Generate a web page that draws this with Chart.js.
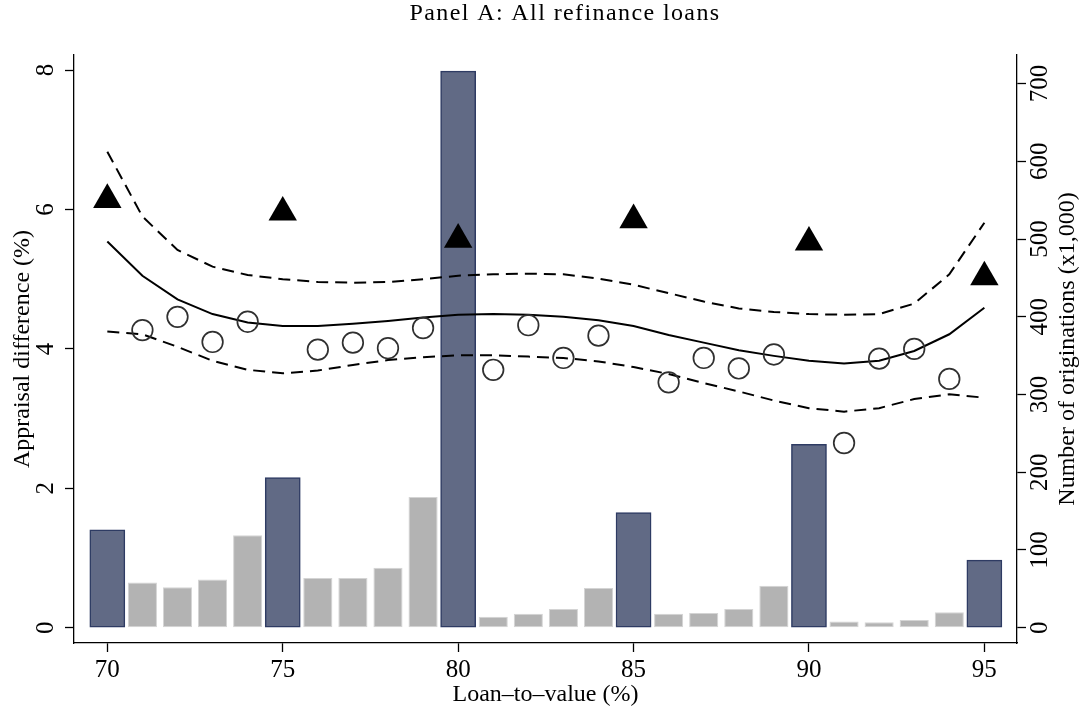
<!DOCTYPE html>
<html>
<head>
<meta charset="utf-8">
<title>Panel A: All refinance loans</title>
<script src="https://cdn.jsdelivr.net/npm/chart.js@4.4.1/dist/chart.umd.min.js"></script>
<style>
  html, body { margin: 0; padding: 0; background: #fff; }
  #wrap { width: 1084px; height: 712px; }
</style>
</head>
<body>
<div id="wrap"><canvas id="ltvChart" width="1084" height="712"></canvas></div>
<script>
// LTV bins: round-number bins and everything in between
const ltvRound = [70, 75, 80, 85, 90, 95];
const ltvOther = [71, 72, 73, 74, 76, 77, 78, 79, 81, 82, 83, 84, 86, 87, 88, 89, 91, 92, 93, 94];
const ltvAll = [70, 71, 72, 73, 74, 75, 76, 77, 78, 79, 80, 81, 82, 83, 84, 85, 86, 87, 88, 89, 90, 91, 92, 93, 94, 95];

// number of originations (x1,000)
const origRound = [126, 193, 716, 148, 236, 87];
const origOther = [58, 52, 62, 119, 64, 64, 77, 168, 14, 18, 24, 51, 18, 19, 24, 54, 8, 7, 10, 20];

// appraisal difference (%)
const apprRound = [6.14, 5.96, 5.57, 5.85, 5.53, 5.03];
const apprOther = [4.27, 4.46, 4.10, 4.39, 3.99, 4.09, 4.01, 4.30, 3.70, 4.34, 3.87, 4.19, 3.52, 3.87, 3.72, 3.92, 2.65, 3.86, 4.00, 3.57];

// fitted curve and confidence band
const fitMid = [5.54, 5.05, 4.71, 4.50, 4.38, 4.33, 4.33, 4.36, 4.40, 4.45, 4.49, 4.50, 4.49, 4.46, 4.41, 4.33, 4.20, 4.09, 3.98, 3.90, 3.83, 3.79, 3.83, 3.97, 4.21, 4.59];
const fitHigh = [6.83, 5.90, 5.42, 5.18, 5.06, 5.00, 4.96, 4.95, 4.96, 5.00, 5.05, 5.07, 5.08, 5.07, 5.01, 4.92, 4.80, 4.68, 4.58, 4.53, 4.50, 4.49, 4.50, 4.65, 5.07, 5.81];
const fitLow = [4.25, 4.21, 4.03, 3.83, 3.70, 3.65, 3.69, 3.77, 3.84, 3.88, 3.91, 3.91, 3.89, 3.87, 3.82, 3.74, 3.64, 3.51, 3.39, 3.26, 3.15, 3.10, 3.15, 3.28, 3.35, 3.30];

const xTicks = [70, 75, 80, 85, 90, 95];
const yTicks = [0, 2, 4, 6, 8];
const y2Ticks = [0, 100, 200, 300, 400, 500, 600, 700];

const pts = (xs, ys) => xs.map((x, i) => ({ x: x, y: ys[i] }));

const SERIF = '"Liberation Serif", "Times New Roman", serif';
const tickFont = { family: SERIF, size: 25 };
const titleFont = { family: SERIF, size: 24 };

const axisBorder = { display: true, color: '#000', width: 1.3 };
const axisGrid = () => ({ offset: false, drawOnChartArea: false, drawTicks: true, tickLength: 9, tickColor: '#000', tickWidth: 1.3 });

// main title + right axis title (reads bottom to top, like the left one)
const panelText = {
    id: 'panelText',
    afterDraw(chart) {
        const { ctx, chartArea } = chart;
        const y2 = chart.scales.y2;
        ctx.save();
        ctx.fillStyle = '#000';
        ctx.font = '24px ' + SERIF;
        ctx.textAlign = 'center';
        ctx.textBaseline = 'alphabetic';
        if ('letterSpacing' in ctx) ctx.letterSpacing = '1.4px';
        ctx.fillText('Panel A: All refinance loans', 565, 20);
        if ('letterSpacing' in ctx) ctx.letterSpacing = '0px';

        ctx.font = '24px ' + SERIF;
        ctx.translate(y2.right - 16, (chartArea.top + chartArea.bottom) / 2);
        ctx.rotate(-Math.PI / 2);
        ctx.textBaseline = 'middle';
        ctx.fillText('Number of originations (x1,000)', 0, 0);
        ctx.restore();
    }
};

new Chart(document.getElementById('ltvChart'), {
    type: 'scatter',
    data: {
        datasets: [
            {
                type: 'scatter',
                data: pts(ltvRound, apprRound),
                pointStyle: 'triangle',
                pointRadius: 16.4,
                pointBackgroundColor: '#000',
                pointBorderColor: '#000',
                pointBorderWidth: 0,
                order: 1
            },
            {
                type: 'scatter',
                data: pts(ltvOther, apprOther),
                pointStyle: 'circle',
                pointRadius: 10.3,
                pointBackgroundColor: 'rgba(0,0,0,0)',
                pointBorderColor: '#303030',
                pointBorderWidth: 1.7,
                order: 2
            },
            {
                type: 'line',
                data: pts(ltvAll, fitMid),
                borderColor: '#000',
                borderWidth: 2,
                pointRadius: 0,
                tension: 0,
                fill: false,
                order: 3
            },
            {
                type: 'line',
                data: pts(ltvAll, fitHigh),
                borderColor: '#000',
                borderWidth: 2,
                borderDash: [12, 7],
                pointRadius: 0,
                tension: 0,
                fill: false,
                order: 3
            },
            {
                type: 'line',
                data: pts(ltvAll, fitLow),
                borderColor: '#000',
                borderWidth: 2,
                borderDash: [12, 7],
                pointRadius: 0,
                tension: 0,
                fill: false,
                order: 3
            },
            {
                type: 'bar',
                yAxisID: 'y2',
                data: pts(ltvRound, origRound),
                backgroundColor: '#616a85',
                borderColor: '#2e3b63',
                borderWidth: 1.5,
                borderSkipped: false,
                barPercentage: 1,
                categoryPercentage: 1,
                grouped: false,
                order: 6
            },
            {
                type: 'bar',
                yAxisID: 'y2',
                data: pts(ltvOther, origOther),
                backgroundColor: '#b3b3b3',
                borderColor: '#d4d4d4',
                borderWidth: 1,
                borderSkipped: false,
                barPercentage: 0.83,
                categoryPercentage: 1,
                grouped: false,
                order: 6
            }
        ]
    },
    options: {
        responsive: false,
        devicePixelRatio: 1,
        animation: false,
        events: [],
        layout: { padding: { top: 55, left: 0, right: 0, bottom: 0 } },
        plugins: {
            legend: { display: false },
            tooltip: { enabled: false }
        },
        scales: {
            x: {
                type: 'linear',
                offset: false,
                min: 69.05,
                max: 95.93,
                afterBuildTicks: s => { s.ticks = xTicks.map(v => ({ value: v })); },
                afterFit: s => { s.height = 69; },
                grid: axisGrid(),
                border: axisBorder,
                ticks: { font: tickFont, color: '#000', padding: 3, maxRotation: 0, autoSkip: false },
                title: { display: true, text: 'Loan–to–value (%)', font: titleFont, color: '#000', padding: { top: 0, bottom: 3 } }
            },
            y: {
                type: 'linear',
                position: 'left',
                min: -0.2195,
                max: 8.217,
                afterBuildTicks: s => { s.ticks = yTicks.map(v => ({ value: v })); },
                afterFit: s => { s.width = 74; },
                grid: axisGrid(),
                border: axisBorder,
                ticks: { font: tickFont, color: '#000', minRotation: 90, maxRotation: 90, crossAlign: 'center', padding: 12 },
                title: { display: true, text: 'Appraisal difference (%)', font: titleFont, color: '#000', padding: { top: 8, bottom: 0 } }
            },
            y2: {
                type: 'linear',
                position: 'right',
                min: -19.7,
                max: 736.7,
                afterBuildTicks: s => { s.ticks = y2Ticks.map(v => ({ value: v })); },
                afterFit: s => { s.width = 67; },
                grid: axisGrid(),
                border: axisBorder,
                ticks: { font: tickFont, color: '#000', minRotation: 90, maxRotation: 90, crossAlign: 'center', padding: -4 }
            }
        }
    },
    plugins: [panelText]
});
</script>
</body>
</html>
